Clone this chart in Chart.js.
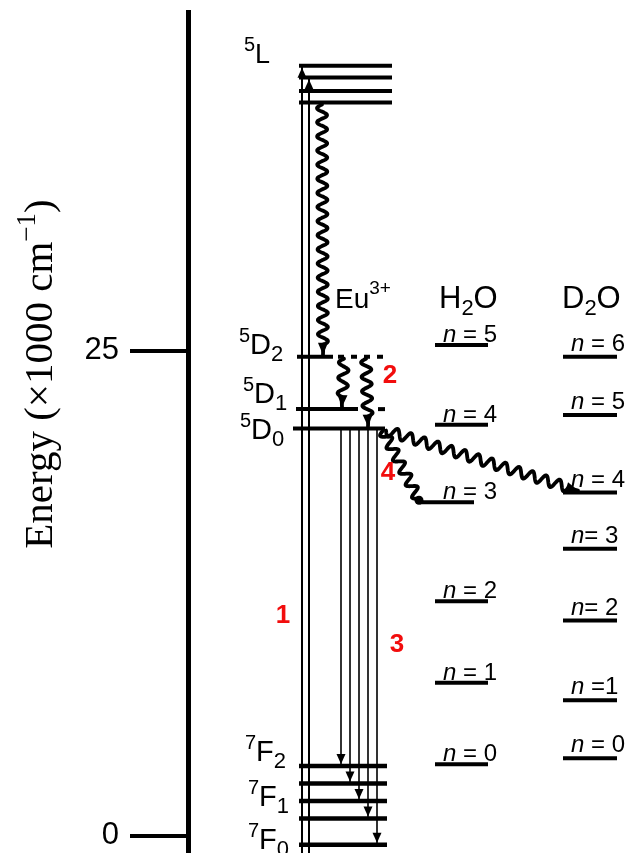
<!DOCTYPE html>
<html>
<head>
<meta charset="utf-8">
<script src="https://cdn.jsdelivr.net/npm/chart.js@4.4.0/dist/chart.umd.min.js"></script>
<style>
  html, body { margin: 0; padding: 0; background: #fff; }
  canvas { display: block; }
</style>
</head>
<body>
<canvas id="diagram" width="627" height="853"></canvas>
<script>
// Energías en unidades de 1000 cm^-1
const yTicks = [0, 25];
const eu5L = [39.7, 39.1, 38.4, 37.8];
const eu5D = [24.7, 22.0, 21.0];               // 5D2, 5D1, 5D0
const eu7F = [3.6, 2.7, 1.8, 0.9, -0.45];      // 7F2 ... 7F0
const h2oLevels = [3.7, 7.9, 12.1, 17.2, 21.2, 25.3];        // n = 0..5
const h2oNames = ["n = 0", "n = 1", "n = 2", "n = 3", "n = 4", "n = 5"];
const d2oLevels = [4.0, 7.0, 11.1, 14.8, 17.7, 21.7, 24.7];  // n = 0..6
const d2oNames = ["n = 0", "n =1", "n= 2", "n= 3", "n = 4", "n = 5", "n = 6"];

const yMin = -0.88;
const yMax = 42.47;

const SANS = '"Liberation Sans", Arial, sans-serif';
const SERIF = '"Liberation Serif", "Times New Roman", serif';
const RED = "#f20d0d";

// linea horizontal de un nivel
function levelLine(label, energy, x0, x1, width, dash) {
    return {
        label: label,
        data: [{ x: x0, y: energy }, { x: x1, y: energy }],
        borderColor: "#000",
        borderWidth: width,
        borderDash: dash || [],
        borderCapStyle: "butt",
        showLine: true,
        pointRadius: 0,
        clip: false,
    };
}

// flecha vertical recta entre dos energias
function arrowLine(label, x, e0, e1, width) {
    return {
        label: label,
        data: [{ x: x, y: e0 }, { x: x, y: e1 }],
        borderColor: "#000",
        borderWidth: width,
        showLine: true,
        pointRadius: 0,
        clip: false,
        arrowHead: { len: 10, half: 4.5, gap: 2 },
    };
}

const datasets = [];

// niveles del Eu3+
eu5L.forEach((e, i) => datasets.push(levelLine("5L-" + i, e, 299, 392, 4)));
datasets.push(levelLine("5D2", eu5D[0], 297, 333, 4));
datasets.push(levelLine("5D2 tail", eu5D[0], 338, 386, 4, [6, 7]));
datasets.push(levelLine("5D1", eu5D[1], 296, 358, 4));
datasets.push(levelLine("5D1 tail", eu5D[1], 378, 385, 4));
datasets.push(levelLine("5D0", eu5D[2], 293, 385, 4));
eu7F.forEach((e, i) => datasets.push(levelLine("7F-" + i, e, 299, 387, 4.5)));

// niveles vibracionales del agua
const h2oX0 = [435, 435, 435, 420, 435, 435];
const h2oX1 = [488, 488, 488, 474, 488, 488];
h2oLevels.forEach((e, i) => datasets.push(levelLine("H2O " + h2oNames[i], e, h2oX0[i], h2oX1[i], 4)));
d2oLevels.forEach((e, i) => datasets.push(levelLine("D2O " + d2oNames[i], e, 563, 617, 4)));

// absorcion (1)
datasets.push(arrowLine("abs 1", 302, yMin, eu5L[0], 2));
datasets.push(arrowLine("abs 2", 309, yMin, eu5L[1], 2));

// emision 5D0 -> 7FJ (3)
const emissionX = [341, 350, 359, 368, 377];
eu7F.forEach((e, i) => datasets.push(arrowLine("em " + i, emissionX[i], eu5D[2], e, 1.6)));

// relajaciones no radiativas (lineas onduladas)
const wavyArrows = [
    { x0: 322, e0: eu5L[3], x1: 323, e1: eu5D[0], end: "arrow" },
    { x0: 344, e0: eu5D[0], x1: 342, e1: eu5D[1], end: "arrow" },
    { x0: 366, e0: eu5D[0], x1: 368, e1: eu5D[2], end: "arrow" },
    { x0: 383, e0: eu5D[2], x1: 419, e1: h2oLevels[3], end: "dot" },
    { x0: 386, e0: eu5D[2], x1: 578, e1: d2oLevels[4], end: "arrow" },
];

// etiquetas de los niveles del Eu3+
const euLabels = [
    { sup: "5", base: "L", sub: "", x: 244, y: 63 },
    { sup: "5", base: "D", sub: "2", x: 239, y: 354 },
    { sup: "5", base: "D", sub: "1", x: 243, y: 403 },
    { sup: "5", base: "D", sub: "0", x: 240, y: 439 },
    { sup: "7", base: "F", sub: "2", x: 245, y: 761 },
    { sup: "7", base: "F", sub: "1", x: 248, y: 806 },
    { sup: "7", base: "F", sub: "0", x: 248, y: 849 },
];

const redNumbers = [
    { t: "1", x: 283, y: 616 },
    { t: "2", x: 390, y: 376 },
    { t: "3", x: 397, y: 645 },
    { t: "4", x: 388, y: 473 },
];

function drawParts(c, x, y, parts, family) {
    let cx = x;
    parts.forEach(([t, size, dy, style]) => {
        c.font = (style ? style + " " : "") + size + "px " + (family || SANS);
        c.fillText(t, cx, y + dy);
        cx += c.measureText(t).width;
    });
    return cx - x;
}

function partsWidth(c, parts, family) {
    let w = 0;
    parts.forEach(([t, size, dy, style]) => {
        c.font = (style ? style + " " : "") + size + "px " + (family || SANS);
        w += c.measureText(t).width;
    });
    return w;
}

function drawHead(c, fx, fy, tx, ty, len, half) {
    const d = Math.hypot(tx - fx, ty - fy);
    const ux = (tx - fx) / d, uy = (ty - fy) / d;
    const bx = tx - ux * len, by = ty - uy * len;
    c.beginPath();
    c.moveTo(tx, ty);
    c.lineTo(bx - uy * half, by + ux * half);
    c.lineTo(bx + uy * half, by - ux * half);
    c.closePath();
    c.fill();
}

function drawWavy(c, x0, y0, x1, y1, end) {
    const amp = 5, wave = 14, tail = end === "arrow" ? 10 : 2;
    const len = Math.hypot(x1 - x0, y1 - y0);
    const ux = (x1 - x0) / len, uy = (y1 - y0) / len;
    const nx = -uy, ny = ux;
    const wl = len - tail;
    const halves = Math.max(1, Math.round(wl / (wave / 2)));
    const w = (2 * wl) / halves;
    c.beginPath();
    for (let s = 0; s <= wl; s += 0.5) {
        const off = amp * Math.sin((2 * Math.PI * s) / w);
        const px = x0 + ux * s + nx * off;
        const py = y0 + uy * s + ny * off;
        if (s === 0) c.moveTo(px, py);
        else c.lineTo(px, py);
    }
    c.lineTo(x1, y1);
    c.stroke();
    if (end === "arrow") {
        drawHead(c, x0, y0, x1, y1, 12, 5);
    } else {
        c.beginPath();
        c.arc(x1, y1, 4.5, 0, Math.PI * 2);
        c.fill();
    }
}

const diagramPlugin = {
    id: "diagram",
    afterDatasetsDraw(chart) {
        const c = chart.ctx;
        const xs = chart.scales.x;
        const ys = chart.scales.y;
        c.save();
        c.fillStyle = "#000";
        c.strokeStyle = "#000";

        // puntas de flecha de las transiciones rectas
        chart.data.datasets.forEach((ds, i) => {
            if (!ds.arrowHead) return;
            const pts = chart.getDatasetMeta(i).data;
            const a = pts[pts.length - 2], b = pts[pts.length - 1];
            const dir = Math.sign(b.y - a.y);
            drawHead(c, a.x, a.y, b.x, b.y - dir * ds.arrowHead.gap, ds.arrowHead.len, ds.arrowHead.half);
        });

        // lineas onduladas
        c.lineWidth = 3.8;
        c.lineCap = "round";
        c.lineJoin = "round";
        wavyArrows.forEach((w) => {
            drawWavy(c, xs.getPixelForValue(w.x0), ys.getPixelForValue(w.e0) + 2,
                xs.getPixelForValue(w.x1), ys.getPixelForValue(w.e1) - 2, w.end);
        });

        // etiquetas
        c.textAlign = "left";
        c.textBaseline = "alphabetic";
        euLabels.forEach((l) => {
            const parts = [[l.sup, 20, -12], [l.base, l.base === "L" ? 27 : 29, 0]];
            if (l.sub) parts.push([l.sub, 22, 7]);
            drawParts(c, l.x, l.y, parts);
        });
        drawParts(c, 335, 308, [["Eu", 28, 0], ["3+", 19, -14]]);
        drawParts(c, 439, 308, [["H", 31, 0], ["2", 22, 7], ["O", 31, 0]]);
        drawParts(c, 562, 308, [["D", 31, 0], ["2", 22, 7], ["O", 31, 0]]);

        h2oLevels.forEach((e, i) => {
            const t = h2oNames[i];
            drawParts(c, 443, ys.getPixelForValue(e) - 3, [[t[0], 24, 0, "italic"], [t.slice(1), 24, 0]]);
        });
        d2oLevels.forEach((e, i) => {
            const t = d2oNames[i];
            drawParts(c, 571, ys.getPixelForValue(e) - 6, [[t[0], 24, 0, "italic"], [t.slice(1), 24, 0]]);
        });

        c.fillStyle = RED;
        c.textAlign = "center";
        c.textBaseline = "middle";
        c.font = "bold 26px " + SANS;
        redNumbers.forEach((r) => c.fillText(r.t, r.x, r.y));

        // titulo del eje de energia
        c.fillStyle = "#000";
        c.textAlign = "left";
        c.textBaseline = "alphabetic";
        const title = [["Energy (×1000 cm", 41, 0], ["−1", 27, -17], [")", 41, 0]];
        const tw = partsWidth(c, title, SERIF);
        c.translate(52, 374);
        c.rotate(-Math.PI / 2);
        drawParts(c, -tw / 2, 0, title, SERIF);
        c.restore();
    },
};

new Chart(document.getElementById("diagram"), {
    type: "scatter",
    data: { datasets: datasets },
    options: {
        responsive: false,
        animation: false,
        events: [],
        devicePixelRatio: 1,
        layout: { padding: { top: 12, left: 0, right: 0, bottom: 0 } },
        plugins: { legend: { display: false }, tooltip: { enabled: false } },
        scales: {
            x: { type: "linear", min: 188, max: 627, display: false },
            y: {
                type: "linear",
                position: "left",
                min: yMin,
                max: yMax,
                afterBuildTicks: (s) => {
                    s.ticks = yTicks.map((v) => ({ value: v }));
                },
                afterFit: (s) => {
                    s.width = 188;
                    s.paddingTop = 0;
                    s.paddingBottom = 0;
                },
                ticks: { color: "#000", padding: 11, font: { family: SANS, size: 31 } },
                grid: { drawOnChartArea: false, drawTicks: true, tickLength: 58, lineWidth: 4, color: "#000" },
                border: { display: true, width: 5, color: "#000" },
            },
        },
    },
    plugins: [diagramPlugin],
});
</script>
</body>
</html>
